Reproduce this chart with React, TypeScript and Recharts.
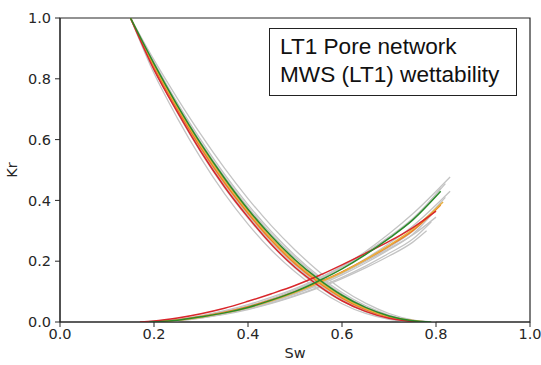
import React from "react";
import { LineChart, Line, XAxis, YAxis, ReferenceArea } from "recharts";

type Pt = [number, number];

// Oil relative permeability (Kro) curves
const kroGrey: Pt[][] = [
  [[0.15,1],[0.2,0.862],[0.25,0.735],[0.3,0.616],[0.35,0.506],[0.4,0.406],[0.45,0.316],[0.5,0.237],[0.55,0.167],[0.6,0.108],[0.65,0.062],[0.7,0.028],[0.75,0.007],[0.8,0]],
  [[0.15,1],[0.2,0.855],[0.25,0.72],[0.3,0.598],[0.35,0.486],[0.4,0.386],[0.45,0.297],[0.5,0.219],[0.55,0.152],[0.6,0.097],[0.65,0.054],[0.7,0.023],[0.75,0.005],[0.79,0]],
  [[0.15,1],[0.2,0.838],[0.25,0.697],[0.3,0.568],[0.35,0.453],[0.4,0.352],[0.45,0.262],[0.5,0.187],[0.55,0.125],[0.6,0.075],[0.65,0.038],[0.7,0.014],[0.76,0]],
  [[0.15,1],[0.2,0.818],[0.25,0.67],[0.3,0.538],[0.35,0.422],[0.4,0.322],[0.45,0.236],[0.5,0.165],[0.55,0.106],[0.6,0.06],[0.65,0.028],[0.7,0.009],[0.75,0]],
  [[0.15,1],[0.2,0.845],[0.25,0.708],[0.3,0.583],[0.35,0.47],[0.4,0.37],[0.45,0.28],[0.5,0.203],[0.55,0.139],[0.6,0.086],[0.65,0.046],[0.7,0.019],[0.77,0]],
  [[0.15,1],[0.2,0.832],[0.25,0.688],[0.3,0.558],[0.35,0.442],[0.4,0.342],[0.45,0.253],[0.5,0.178],[0.55,0.117],[0.6,0.069],[0.65,0.034],[0.7,0.012],[0.75,0]],
  [[0.15,1],[0.2,0.85],[0.25,0.715],[0.3,0.59],[0.35,0.478],[0.4,0.378],[0.45,0.289],[0.5,0.212],[0.55,0.146],[0.6,0.092],[0.65,0.05],[0.7,0.021],[0.78,0]],
  [[0.15,1],[0.2,0.842],[0.25,0.702],[0.3,0.575],[0.35,0.462],[0.4,0.362],[0.45,0.272],[0.5,0.195],[0.55,0.132],[0.6,0.081],[0.65,0.043],[0.7,0.017],[0.77,0]],
];

// Water relative permeability (Krw) curves
const krwGrey: Pt[][] = [
  [[0.19,0],[0.25,0.006],[0.3,0.017],[0.35,0.031],[0.4,0.05],[0.45,0.075],[0.5,0.105],[0.55,0.14],[0.6,0.182],[0.65,0.232],[0.7,0.29],[0.75,0.355],[0.83,0.477]],
  [[0.19,0],[0.25,0.007],[0.3,0.018],[0.35,0.033],[0.4,0.052],[0.45,0.077],[0.5,0.106],[0.55,0.14],[0.6,0.18],[0.65,0.227],[0.7,0.28],[0.75,0.34],[0.82,0.455]],
  [[0.18,0],[0.25,0.009],[0.3,0.021],[0.35,0.037],[0.4,0.057],[0.45,0.082],[0.5,0.11],[0.55,0.144],[0.6,0.183],[0.65,0.228],[0.7,0.278],[0.75,0.335],[0.81,0.44]],
  [[0.2,0],[0.25,0.005],[0.3,0.015],[0.35,0.028],[0.4,0.045],[0.45,0.067],[0.5,0.094],[0.55,0.126],[0.6,0.164],[0.65,0.208],[0.7,0.258],[0.75,0.315],[0.83,0.43]],
  [[0.19,0],[0.25,0.007],[0.3,0.018],[0.35,0.032],[0.4,0.05],[0.45,0.072],[0.5,0.098],[0.55,0.128],[0.6,0.163],[0.65,0.203],[0.7,0.248],[0.75,0.3],[0.82,0.41]],
  [[0.19,0],[0.25,0.006],[0.3,0.016],[0.35,0.029],[0.4,0.046],[0.45,0.067],[0.5,0.092],[0.55,0.121],[0.6,0.155],[0.65,0.194],[0.7,0.238],[0.75,0.288],[0.8,0.37]],
  [[0.2,0],[0.25,0.005],[0.3,0.014],[0.35,0.027],[0.4,0.043],[0.45,0.063],[0.5,0.087],[0.55,0.115],[0.6,0.147],[0.65,0.184],[0.7,0.226],[0.75,0.272],[0.79,0.33]],
  [[0.18,0],[0.25,0.008],[0.3,0.019],[0.35,0.034],[0.4,0.052],[0.45,0.074],[0.5,0.1],[0.55,0.13],[0.6,0.163],[0.65,0.2],[0.7,0.241],[0.75,0.286],[0.8,0.345]],
  [[0.2,0],[0.25,0.004],[0.3,0.013],[0.35,0.025],[0.4,0.041],[0.45,0.061],[0.5,0.085],[0.55,0.112],[0.6,0.143],[0.65,0.178],[0.7,0.217],[0.75,0.262],[0.78,0.3]],
  [[0.19,0],[0.25,0.006],[0.3,0.016],[0.35,0.03],[0.4,0.048],[0.45,0.07],[0.5,0.096],[0.55,0.126],[0.6,0.16],[0.65,0.2],[0.7,0.246],[0.75,0.298],[0.81,0.39]],
];

const kroOrange: Pt[] = [[0.15,1],[0.2,0.84],[0.25,0.7],[0.3,0.572],[0.35,0.458],[0.4,0.358],[0.45,0.268],[0.5,0.192],[0.55,0.13],[0.6,0.079],[0.65,0.041],[0.7,0.016],[0.77,0]];
const kroGold: Pt[] = [[0.15,1],[0.2,0.845],[0.25,0.706],[0.3,0.58],[0.35,0.466],[0.4,0.365],[0.45,0.275],[0.5,0.198],[0.55,0.135],[0.6,0.083],[0.65,0.044],[0.7,0.018],[0.78,0]];
const kroRed: Pt[] = [[0.15,1],[0.2,0.83],[0.25,0.69],[0.3,0.56],[0.35,0.445],[0.4,0.345],[0.45,0.255],[0.5,0.18],[0.55,0.12],[0.6,0.07],[0.65,0.035],[0.7,0.012],[0.76,0]];
const kroGreen: Pt[] = [[0.15,1],[0.2,0.85],[0.25,0.712],[0.3,0.586],[0.35,0.473],[0.4,0.371],[0.45,0.282],[0.5,0.205],[0.55,0.141],[0.6,0.088],[0.65,0.048],[0.7,0.02],[0.75,0.004],[0.79,0]];

const krwOrange: Pt[] = [[0.19,0],[0.25,0.007],[0.3,0.018],[0.35,0.032],[0.4,0.05],[0.45,0.073],[0.5,0.1],[0.55,0.13],[0.6,0.165],[0.65,0.205],[0.7,0.25],[0.75,0.3],[0.81,0.385]];
const krwGold: Pt[] = [[0.2,0],[0.25,0.006],[0.3,0.016],[0.35,0.03],[0.4,0.047],[0.45,0.07],[0.5,0.097],[0.55,0.128],[0.6,0.163],[0.65,0.205],[0.7,0.252],[0.75,0.305],[0.815,0.395]];
const krwRed: Pt[] = [[0.17,0],[0.2,0.003],[0.25,0.013],[0.3,0.027],[0.35,0.045],[0.4,0.068],[0.45,0.093],[0.5,0.12],[0.55,0.152],[0.6,0.188],[0.65,0.226],[0.7,0.265],[0.75,0.31],[0.8,0.365]];
const krwGreen: Pt[] = [[0.19,0],[0.25,0.006],[0.3,0.017],[0.35,0.03],[0.4,0.048],[0.45,0.072],[0.5,0.1],[0.55,0.135],[0.6,0.175],[0.65,0.222],[0.7,0.275],[0.75,0.335],[0.81,0.43]];

const xTicks = [0, 0.2, 0.4, 0.6, 0.8, 1.0];
const yTicks = [0, 0.2, 0.4, 0.6, 0.8, 1.0];
const legendLines = ["LT1 Pore network", "MWS (LT1) wettability"];

const toRows = (pts: Pt[]) => pts.map(([sw, kr]) => ({ sw, kr }));

const colored = [
  { pts: kroOrange, c: "#f07d1e" },
  { pts: krwOrange, c: "#f07d1e" },
  { pts: kroGold, c: "#e8b040" },
  { pts: krwGold, c: "#e8b040" },
  { pts: kroRed, c: "#d9262b" },
  { pts: krwRed, c: "#d9262b" },
  { pts: kroGreen, c: "#2a8a2a" },
  { pts: krwGreen, c: "#2a8a2a" },
];

const textFont = { fontSize: 14.5, fill: "#262626", fontFamily: "DejaVu Sans" };

export default function App() {
  const greys = [...kroGrey, ...krwGrey];
  return (
    <div style={{ position: "absolute", left: 0, top: 0, width: 541, height: 365, background: "#fff" }}>
      <LineChart width={541} height={365} margin={{ top: 18, right: 11, bottom: 0, left: 0 }}>
        <XAxis
          type="number"
          dataKey="sw"
          domain={[0, 1]}
          ticks={xTicks}
          tickFormatter={(v: number) => v.toFixed(1)}
          allowDataOverflow
          height={43}
          tickSize={5}
          tickMargin={2}
          stroke="#262626"
          tick={textFont}
          label={{ value: "Sw", position: "insideBottom", offset: 7, style: textFont }}
        />
        <YAxis
          type="number"
          dataKey="kr"
          domain={[0, 1]}
          ticks={yTicks}
          tickFormatter={(v: number) => v.toFixed(1)}
          allowDataOverflow
          width={60}
          tickSize={5}
          tickMargin={4}
          stroke="#262626"
          tick={textFont}
          label={{ value: "Kr", angle: -90, position: "insideLeft", offset: 12, style: { ...textFont, textAnchor: "middle" } }}
        />
        <ReferenceArea x1={0} x2={1} y1={0} y2={1} fill="none" stroke="#262626" strokeWidth={1.2} fillOpacity={0} />
        {greys.map((pts, i) => (
          <Line
            key={"g" + i}
            data={toRows(pts)}
            dataKey="kr"
            type="monotone"
            stroke="#c4c4c4"
            strokeWidth={1.3}
            dot={false}
            isAnimationActive={false}
          />
        ))}
        {colored.map((s, i) => (
          <Line
            key={"c" + i}
            data={toRows(s.pts)}
            dataKey="kr"
            type="monotone"
            stroke={s.c}
            strokeWidth={1.5}
            dot={false}
            isAnimationActive={false}
          />
        ))}
      </LineChart>
      <div
        style={{
          position: "absolute",
          left: 269,
          top: 28,
          width: 236,
          height: 62,
          border: "1.5px solid #222",
          background: "#fff",
          fontFamily: "'Liberation Sans', Arial, sans-serif",
          fontSize: 22.6,
          lineHeight: "28px",
          paddingLeft: 10,
          paddingTop: 4,
          boxSizing: "content-box",
          color: "#111",
        }}
      >
        {legendLines.map((t) => (
          <div key={t} style={{ whiteSpace: "nowrap" }}>{t}</div>
        ))}
      </div>
    </div>
  );
}
